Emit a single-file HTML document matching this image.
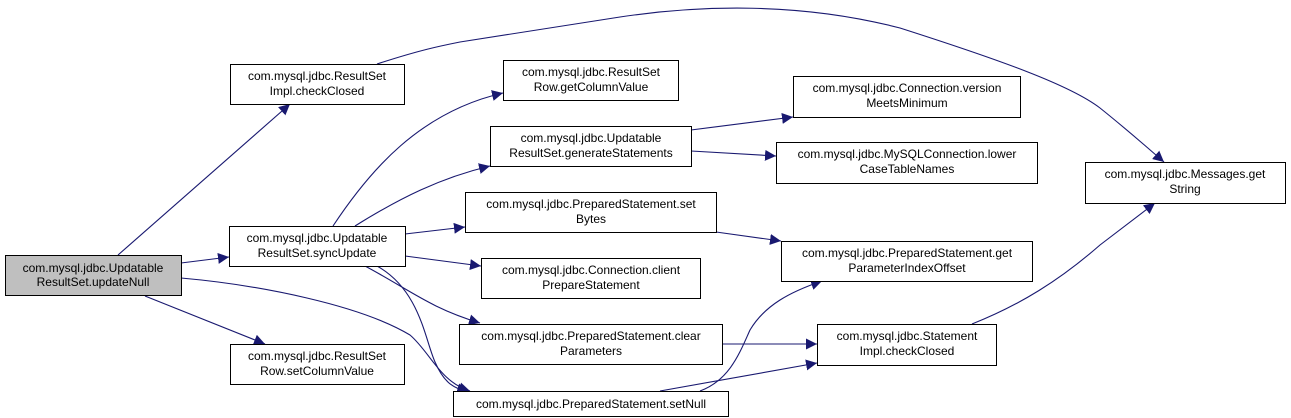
<!DOCTYPE html>
<html><head><meta charset="utf-8"><style>
html,body{margin:0;padding:0;background:#fff;}
svg{display:block;}
text{font-family:"Liberation Sans",Arial,sans-serif;font-size:12px;fill:#000;}
</style></head><body>
<svg width="1291" height="418" viewBox="0 0 1291 418" xmlns="http://www.w3.org/2000/svg">
<defs>
<marker id="a" viewBox="0 0 10 10" refX="10" refY="5" markerWidth="11" markerHeight="11" markerUnits="userSpaceOnUse" orient="auto">
<path d="M0,0 L10,5 L0,10 z" fill="#191970"/>
</marker>
</defs>
<g fill="none" stroke="#191970" stroke-width="1.1" marker-end="url(#a)">
<path d="M118,255 L290,104"/>
<path d="M181,263 L229,257"/>
<path d="M145,296 L265,344"/>
<path d="M181,278 C260,285 360,305 410,335 C430,352 440,382 470,391"/>
<path d="M377,64 C420,50 440,46 460,42 L620,17 C700,5 800,2 900,28 C1000,60 1070,85 1100,108 C1130,132 1150,150 1164,162"/>
<path d="M333,226 C370,170 420,112 503,93"/>
<path d="M355,226 C400,198 440,178 490,166"/>
<path d="M405,234 L465,227"/>
<path d="M405,256 L481,266"/>
<path d="M365,266 C410,290 430,308 480,323"/>
<path d="M377,266 C420,290 425,340 435,362 C445,385 455,388 468,392"/>
<path d="M691,130 L793,117"/>
<path d="M691,151 L776,156"/>
<path d="M716,232 L781,241"/>
<path d="M722,344 L817,344"/>
<path d="M660,391 L817,363"/>
<path d="M700,391 C730,380 740,352 750,330 C765,305 790,292 822,281"/>
<path d="M972,324 C1020,305 1060,280 1100,245 L1155,203"/>
</g>
<g stroke="#000" stroke-width="1">
<rect x="5.5" y="255.5" width="176" height="40" fill="#bfbfbf"/>
<rect x="230.5" y="64.5" width="174" height="40" fill="#fff"/>
<rect x="229.5" y="226.5" width="176" height="40" fill="#fff"/>
<rect x="230.5" y="344.5" width="174" height="40" fill="#fff"/>
<rect x="503.5" y="60.5" width="175" height="40" fill="#fff"/>
<rect x="490.5" y="126.5" width="201" height="40" fill="#fff"/>
<rect x="465.5" y="192.5" width="251" height="40" fill="#fff"/>
<rect x="481.5" y="258.5" width="219" height="40" fill="#fff"/>
<rect x="459.5" y="324.5" width="263" height="40" fill="#fff"/>
<rect x="453.5" y="391.5" width="275" height="25" fill="#fff"/>
<rect x="793.5" y="76.5" width="227" height="41" fill="#fff"/>
<rect x="776.5" y="142.5" width="261" height="41" fill="#fff"/>
<rect x="781.5" y="241.5" width="251" height="40" fill="#fff"/>
<rect x="817.5" y="324.5" width="179" height="41" fill="#fff"/>
<rect x="1085.5" y="162.5" width="200" height="41" fill="#fff"/>
</g>
<g text-anchor="middle">
<text x="93" y="272">com.mysql.jdbc.Updatable</text><text x="93" y="286">ResultSet.updateNull</text>
<text x="317" y="80">com.mysql.jdbc.ResultSet</text><text x="317" y="95">Impl.checkClosed</text>
<text x="317" y="242">com.mysql.jdbc.Updatable</text><text x="317" y="257">ResultSet.syncUpdate</text>
<text x="317" y="360">com.mysql.jdbc.ResultSet</text><text x="317" y="375">Row.setColumnValue</text>
<text x="591" y="76">com.mysql.jdbc.ResultSet</text><text x="591" y="91">Row.getColumnValue</text>
<text x="591" y="142">com.mysql.jdbc.Updatable</text><text x="591" y="157">ResultSet.generateStatements</text>
<text x="591" y="208">com.mysql.jdbc.PreparedStatement.set</text><text x="591" y="223">Bytes</text>
<text x="591" y="274">com.mysql.jdbc.Connection.client</text><text x="591" y="289">PrepareStatement</text>
<text x="591" y="340">com.mysql.jdbc.PreparedStatement.clear</text><text x="591" y="355">Parameters</text>
<text x="591" y="408">com.mysql.jdbc.PreparedStatement.setNull</text>
<text x="907" y="92">com.mysql.jdbc.Connection.version</text><text x="907" y="107">MeetsMinimum</text>
<text x="907" y="158">com.mysql.jdbc.MySQLConnection.lower</text><text x="907" y="173">CaseTableNames</text>
<text x="907" y="257">com.mysql.jdbc.PreparedStatement.get</text><text x="907" y="272">ParameterIndexOffset</text>
<text x="907" y="340">com.mysql.jdbc.Statement</text><text x="907" y="355">Impl.checkClosed</text>
<text x="1185" y="178">com.mysql.jdbc.Messages.get</text><text x="1185" y="193">String</text>
</g>
</svg>
</body></html>
